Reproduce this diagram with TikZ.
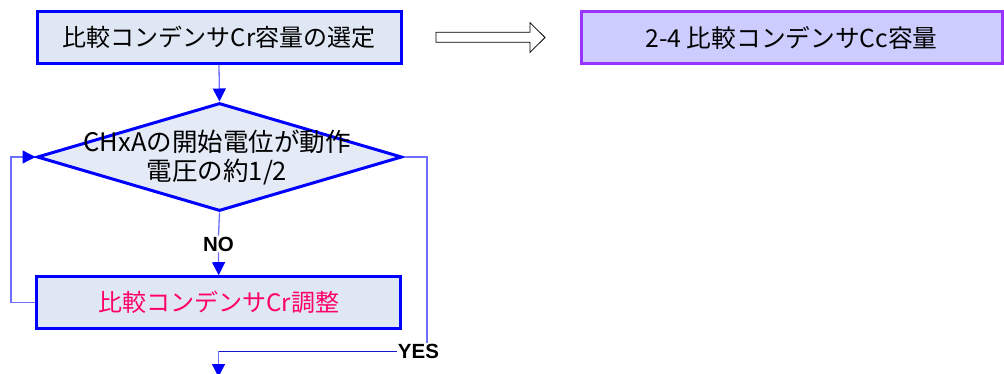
\documentclass[tikz,border=0pt]{standalone}
\usepackage{fontspec}
\setmainfont{Liberation Sans}
\newfontfamily\jp{Noto Sans CJK JP}
\usetikzlibrary{arrows.meta,shapes.geometric}
\definecolor{boxfill}{RGB}{222,231,243}
\definecolor{diafill}{RGB}{228,234,246}
\definecolor{boxline}{RGB}{0,0,255}
\definecolor{refill}{RGB}{204,204,255}
\definecolor{refline}{RGB}{153,51,255}
\definecolor{conn}{RGB}{110,110,255}
\definecolor{yesline}{RGB}{20,20,200}
\definecolor{pinktext}{RGB}{255,0,102}
\tikzset{
  procbox/.style={draw=boxline, line width=3pt, fill=boxfill, minimum width=364pt, minimum height=51.6pt, inner sep=0pt, font=\jp\fontsize{24}{28}\selectfont},
  refbox/.style={draw=refline, line width=3pt, fill=refill, minimum width=421pt, minimum height=51.6pt, inner sep=0pt, font=\jp\fontsize{24.7}{28}\selectfont},
  decide/.style={diamond, draw=boxline, line width=3pt, fill=diafill, minimum width=365pt, minimum height=108pt, inner sep=0pt},
  conline/.style={draw=conn, line width=1.3pt},
  tip/.style={-{Triangle[length=13pt,width=13pt,color=boxline]}},
  lbl/.style={font=\bfseries\fontsize{20.5}{22}\selectfont, inner sep=1pt},
}
\begin{document}
\begin{tikzpicture}[x=1pt,y=-1pt]
\useasboundingbox (0,0) rectangle (1004,373);
\node[procbox] (b1) at (219,37.5) {比較コンデンサCr容量の選定};
\node[refbox] (b2) at (791.5,37.5) {2-4 比較コンデンサCc容量};
\node[decide] (d) at (219.5,157) {};
\node[font=\jp\fontsize{25.5}{29}\selectfont, align=center, inner sep=0pt] (dt) at (217,157.5) {CHxAの開始電位が動作\\電圧の約1/2};
\node[procbox] (b3) at (218.7,302.5) {\color{pinktext}比較コンデンサCr調整};
% hollow block arrow
\draw[line width=0.8pt, fill=white] (436,32.3) -- (530,32.3) -- (530,22.7) -- (545,37.5) -- (530,52.3) -- (530,42.3) -- (436,42.3) -- cycle;
% connectors
\draw[conline, tip] (b1.south) -- (d.north);
\node[lbl] (no) at (218.5,244) {NO};
\draw[conline] (d.south) -- (no.north);
\draw[conline, tip] (no.south) -- (b3.north);
\coordinate (lft) at (11,302.5);
\draw[conline, tip] (b3.west) -- (lft) |- (d.west);
\coordinate (rgt) at (427,157);
\node[lbl] (yes) at (418.5,351) {YES};
\draw[conline] (d.east) -- (rgt) -- (rgt |- yes.north);
\coordinate (out) at (218.5,377);
\draw[draw=yesline, line width=1pt] (yes.west) -- (yes.west -| out);
\draw[conline, tip] (yes.west -| out) -- (out);
\end{tikzpicture}
\end{document}
